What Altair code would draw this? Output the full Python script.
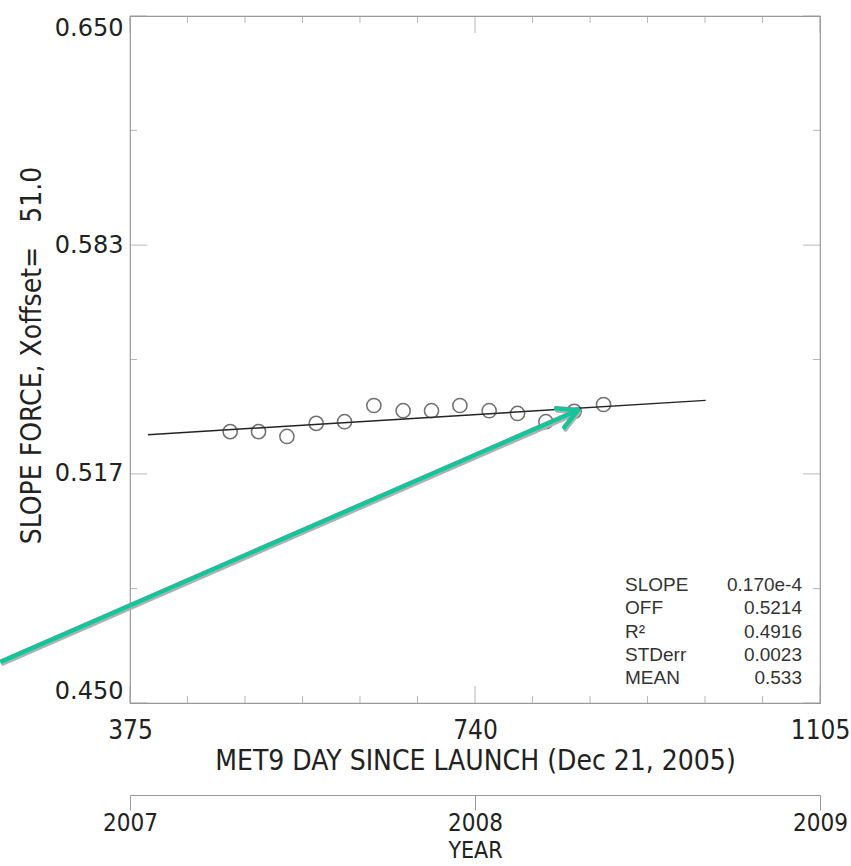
import altair as alt
import pandas as pd

# ---- data ----
days = [481, 511, 541, 572, 602, 633, 664, 694, 724, 755, 785, 815, 845, 876]
slope_force = [0.5290, 0.5290, 0.5276, 0.5314, 0.5319, 0.5366, 0.5351,
               0.5351, 0.5366, 0.5351, 0.5343, 0.5319, 0.5349, 0.5369]

fit_days = [394, 984]
fit_values = [0.5281, 0.5381]

# annotation arrow (shaft and open head) in data coordinates
arrow_seg = ["shaft", "shaft", "head", "head", "head"]
arrow_idx = [0, 1, 0, 1, 2]
arrow_days = [239.6, 849.0, 825.7, 849.0, 834.5]
arrow_vals = [0.4622, 0.5353, 0.5358, 0.5353, 0.5303]

x_major = [375, 740, 1105]
x_minor = [435.8, 496.7, 557.5, 618.3, 679.2, 800.8, 861.7, 922.5, 983.3, 1044.2]
y_major = [0.4500, 0.5167, 0.5833, 0.6500]
y_minor = [0.4833, 0.5500, 0.6167]
years = ["2007", "2008", "2009"]          # year boundaries at days 375, 740, 1105

stat_names = ["SLOPE", "OFF", "R\u00b2", "STDerr", "MEAN"]
stat_values = ["0.170e-4", "0.5214", "0.4916", "0.0023", "0.533"]

XD = [375, 1105]
YD = [0.450, 0.650]
FONT = "Liberation Sans Narrow, DejaVu Sans Condensed, Liberation Sans, sans-serif"
SANS = "Liberation Sans, Arial, sans-serif"
WIDE = "DejaVu Sans, Liberation Sans, sans-serif"
GRAY = "#999999"
INK = "#222222"

pts = pd.DataFrame({"day": days, "v": slope_force})
fit = pd.DataFrame({"day": fit_days, "v": fit_values})
arrow = pd.DataFrame({"seg": arrow_seg, "i": arrow_idx, "day": arrow_days, "v": arrow_vals})
one = pd.DataFrame({"k": [0]})

x_axis = alt.Axis(values=x_major, format="d", domain=False, ticks=False, grid=False,
                  labelFontSize=26, labelFont=FONT, labelColor=INK, labelPadding=14,
                  labelFlush=False, labelOverlap=False,
                  title="MET9 DAY SINCE LAUNCH (Dec 21, 2005)", titleFont=FONT,
                  titleFontSize=28, titleFontWeight="normal", titleColor=INK,
                  titlePadding=4)
y_axis = alt.Axis(values=y_major, format=".3f", domain=False, ticks=False, grid=False,
                  labelFontSize=24, labelFont=WIDE, labelColor=INK, labelPadding=7,
                  labelFlush=True, labelOverlap=False,
                  title="SLOPE FORCE, Xoffset=\u00a0\u00a0\u00a051.0", titleFont=FONT,
                  titleFontSize=28, titleFontWeight="normal", titleColor=INK,
                  titleX=-98, titleY=339, titleAlign="center", titleBaseline="middle",
                  titleAngle=270)

def xs():
    return alt.X("day:Q", scale=alt.Scale(domain=XD, nice=False, zero=False), axis=x_axis)

def ys():
    return alt.Y("v:Q", scale=alt.Scale(domain=YD, nice=False, zero=False), axis=y_axis)

points = alt.Chart(pts).mark_point(shape="circle", filled=False, size=200,
                                   stroke="#333333", strokeWidth=1.5).encode(x=xs(), y=ys())

line = alt.Chart(fit).mark_line(color=INK, strokeWidth=1.4).encode(x=xs(), y=ys())

arrow_shadow = alt.Chart(arrow).mark_line(color="#b0b0b0", strokeWidth=4, strokeCap="round",
                                          strokeJoin="round", xOffset=1, yOffset=2.5).encode(
    x=xs(), y=ys(), detail="seg:N", order="i:Q")
arrow_main = alt.Chart(arrow).mark_line(color="#16c39a", strokeWidth=4.5, strokeCap="round",
                                        strokeJoin="round").encode(
    x=xs(), y=ys(), detail="seg:N", order="i:Q")

# inward ticks on all four sides of the frame
def xticks(values, edge, length, sign):
    df = pd.DataFrame({"day": values, "v": [edge] * len(values)})
    return alt.Chart(df).mark_tick(orient="vertical", size=length, thickness=1,
                                   color=GRAY, yOffset=sign * length / 2).encode(x=xs(), y=ys())

def yticks(values, edge, length, sign):
    df = pd.DataFrame({"day": [edge] * len(values), "v": values})
    return alt.Chart(df).mark_tick(orient="horizontal", size=length, thickness=1,
                                   color=GRAY, xOffset=sign * length / 2).encode(x=xs(), y=ys())

ticks = [
    xticks(x_major, 0.450, 17, -1), xticks(x_minor, 0.450, 7, -1),
    xticks(x_major, 0.650, 17, 1), xticks(x_minor, 0.650, 7, 1),
    yticks(y_major, 375, 17, 1), yticks(y_minor, 375, 7, 1),
    yticks(y_major, 1105, 17, -1), yticks(y_minor, 1105, 7, -1),
]

stats_l = alt.Chart(one).mark_text(align="left", baseline="middle", fontSize=19,
                                   font=SANS, color="#333333", lineHeight=23.3).encode(
    x=alt.value(495), y=alt.value(569), text=alt.value(stat_names))
stats_r = alt.Chart(one).mark_text(align="right", baseline="middle", fontSize=19,
                                   font=SANS, color="#333333", lineHeight=23.3).encode(
    x=alt.value(672), y=alt.value(569), text=alt.value(stat_values))

main = alt.layer(*ticks, line, points, arrow_shadow, arrow_main, stats_l, stats_r)

# secondary YEAR axis: same day scale, year boundaries labelled
year_expr = " : ".join(
    f"datum.value == {d} ? '{y}'" for d, y in zip(x_major[:-1], years[:-1])
) + f" : '{years[-1]}'"
year_df = pd.DataFrame({"yd": x_major})
year_layer = alt.Chart(year_df).mark_point(opacity=0).encode(
    x=alt.X("yd:Q", scale=alt.Scale(domain=XD, nice=False, zero=False),
            axis=alt.Axis(orient="bottom", offset=92, values=x_major, labelExpr=year_expr,
                          domain=True, domainColor=GRAY, ticks=True, tickColor=GRAY,
                          tickSize=15, grid=False, labelFontSize=24, labelFont=FONT,
                          labelColor=INK, labelPadding=1, labelFlush=False,
                          labelOverlap=False, title="YEAR", titleFont=FONT,
                          titleFontSize=23, titleFontWeight="normal", titleColor=INK,
                          titlePadding=4)))

chart = alt.layer(main, year_layer).resolve_scale(x="independent").properties(
    width=690, height=687,
    autosize=alt.AutoSizeParams(type="none"),
    padding={"left": 130, "top": 16, "right": 31, "bottom": 163},
    background="white",
).configure_view(stroke=GRAY, strokeWidth=1.2)

chart.save("out.html", embed_options={"renderer": "svg", "actions": False})
